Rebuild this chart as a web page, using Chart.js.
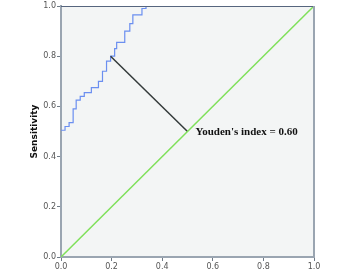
<!DOCTYPE html>
<html>
<head>
<meta charset="utf-8">
<script src="https://cdn.jsdelivr.net/npm/chart.js@4"></script>
<style>
  html, body { margin: 0; padding: 0; background: #ffffff; }
  #wrap { width: 342px; height: 274px; }
</style>
</head>
<body>
<div id="wrap"><canvas id="myChart" width="342" height="274"></canvas></div>
<script>
// ROC curve vertices (1 - specificity, sensitivity)
var rocFpr = [0, 0.016, 0.016, 0.032, 0.032, 0.048, 0.048, 0.06, 0.06, 0.076, 0.076, 0.092, 0.092, 0.12, 0.12,
    0.148, 0.148, 0.164, 0.164, 0.18, 0.18, 0.196, 0.196, 0.212, 0.212, 0.22, 0.22, 0.252, 0.252,
    0.272, 0.272, 0.284, 0.284, 0.32, 0.32, 0.336, 0.336, 1];
var rocSens = [0.505, 0.505, 0.52, 0.52, 0.535, 0.535, 0.59, 0.59, 0.625, 0.625, 0.64, 0.64, 0.655, 0.655, 0.675,
    0.675, 0.70, 0.70, 0.74, 0.74, 0.78, 0.78, 0.80, 0.80, 0.83, 0.83, 0.855, 0.855, 0.90,
    0.90, 0.93, 0.93, 0.965, 0.965, 0.99, 0.99, 1.0, 1.0];

// reference line
var refX = [0, 1];
var refY = [0, 1];

// Youden segment
var youdenX = [0.196, 0.5];
var youdenY = [0.80, 0.5];
var youdenText = "Youden's index = 0.60";

var tickValues = [0, 0.2, 0.4, 0.6, 0.8, 1.0];
var yTitle = "Sensitivity";

function toPoints(xs, ys) {
    let pts = [];
    for (let i = 0; i < xs.length; i++) {
        pts.push({ x: xs[i], y: ys[i] });
    }
    return pts;
}

var frame = {
    id: "frame",
    beforeDraw(chart) {
        const ctx = chart.ctx;
        const a = chart.chartArea;
        ctx.save();
        ctx.fillStyle = "#f3f5f5";
        ctx.fillRect(a.left, a.top, a.right - a.left, a.bottom - a.top);
        ctx.restore();
    },
    afterDatasetsDraw(chart) {
        const ctx = chart.ctx;
        const a = chart.chartArea;
        const xs = chart.scales.x;
        const ys = chart.scales.y;
        ctx.save();
        // top and right border
        ctx.strokeStyle = "#56657e";
        ctx.lineWidth = 1;
        ctx.beginPath();
        ctx.moveTo(a.left, a.top + 0.5);
        ctx.lineTo(a.right, a.top + 0.5);
        ctx.stroke();
        ctx.strokeStyle = "#9aa5b1";
        ctx.lineWidth = 2;
        ctx.beginPath();
        ctx.moveTo(a.right, a.top);
        ctx.lineTo(a.right, a.bottom);
        ctx.stroke();
        // annotation
        ctx.fillStyle = "#111111";
        ctx.font = "bold 11px 'Liberation Serif', serif";
        ctx.textAlign = "left";
        ctx.textBaseline = "middle";
        ctx.fillText(youdenText, xs.getPixelForValue(youdenX[1]) + 8, ys.getPixelForValue(youdenY[1]) + 1);
        ctx.restore();
    }
};

new Chart("myChart", {
    type: "scatter",
    data: {
        datasets: [
            {
                data: toPoints(refX, refY),
                showLine: true,
                borderColor: "#7fe05a",
                borderWidth: 1.5,
                pointRadius: 0
            },
            {
                data: toPoints(youdenX, youdenY),
                showLine: true,
                borderColor: "#333a3a",
                borderWidth: 1.5,
                pointRadius: 0
            },
            {
                data: toPoints(rocFpr, rocSens),
                showLine: true,
                borderColor: "#6b8ff0",
                borderWidth: 1.2,
                pointRadius: 0
            }
        ]
    },
    options: {
        responsive: false,
        animation: false,
        events: [],
        layout: { padding: { top: 6, right: 28, left: 0, bottom: 0 } },
        plugins: {
            legend: { display: false },
            tooltip: { enabled: false }
        },
        scales: {
            x: {
                type: "linear",
                min: 0,
                max: 1,
                afterFit(scale) { scale.height = 17; },
                afterBuildTicks(scale) { scale.ticks = tickValues.map(v => ({ value: v })); },
                grid: { drawOnChartArea: false, drawTicks: true, tickLength: 4, color: "#6f7a86" },
                border: { color: "#9aa5b1", width: 2 },
                ticks: {
                    padding: 1,
                    color: "#555555",
                    font: { size: 8, family: "'DejaVu Sans', sans-serif" },
                    callback: v => v.toFixed(1)
                }
            },
            y: {
                type: "linear",
                min: 0,
                max: 1,
                afterFit(scale) { scale.width = 61; },
                afterBuildTicks(scale) { scale.ticks = tickValues.map(v => ({ value: v })); },
                grid: { drawOnChartArea: false, drawTicks: true, tickLength: 4, color: "#6f7a86" },
                border: { color: "#9aa5b1", width: 2 },
                title: {
                    display: true,
                    text: yTitle,
                    color: "#111111",
                    font: { size: 9, weight: "bold", family: "'DejaVu Sans', sans-serif" },
                    padding: { top: 29, bottom: 0 }
                },
                ticks: {
                    padding: 1,
                    color: "#555555",
                    font: { size: 8, family: "'DejaVu Sans', sans-serif" },
                    callback: v => v.toFixed(1)
                }
            }
        }
    },
    plugins: [frame]
});
</script>
</body>
</html>
